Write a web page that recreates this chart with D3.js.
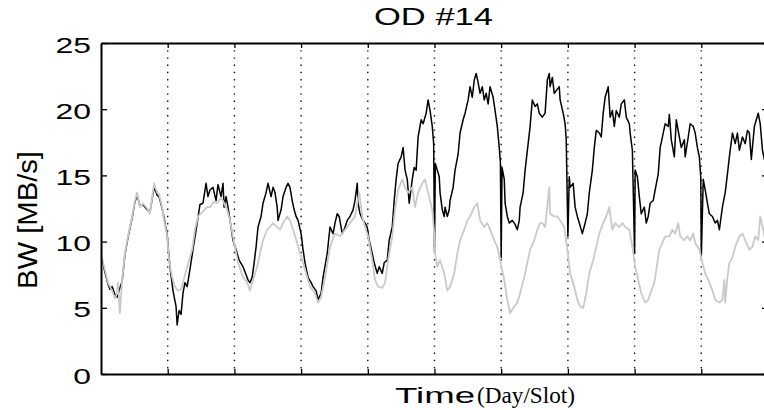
<!DOCTYPE html>
<html>
<head>
<meta charset="utf-8">
<script src="https://cdn.jsdelivr.net/npm/d3@7"></script>
<style>
  html, body { margin: 0; padding: 0; background: #fff; }
  svg { display: block; }
  text { font-family: "Liberation Sans", Arial, Helvetica, sans-serif; fill: #000; }
</style>
</head>
<body>
<svg id="chart" width="764" height="410"></svg>
<script>
// OD #14 bandwidth over ten days, time in hours from the start of the trace.
const chartTitle = "OD #14";
const yLabel = "BW [MB/s]";
const xLabelMain = "Time";
const xLabelUnit = "(Day/Slot)";

const timeDomain = [0, 240];
const bwDomain = [0, 25];
const yTicks = [0, 5, 10, 15, 20, 25];
const yTickLabels = ["0", "5", "10", "15", "20", "25"];
const dayTicks = [24, 48, 72, 96, 120, 144, 168, 192, 216];

// Measured OD traffic (dark trace): [hour, MB/s]
const measuredBW = [
  [0,9.0],[1.4,7.7],[2.5,6.8],[3.2,6.4],[4.0,6.6],[5.0,6.0],[5.8,5.8],[6.8,6.5],[7.6,7.0],[8.6,9.0],
  [9.7,10.3],[11.2,11.8],[12.2,13.0],[13.0,13.5],[14.0,12.7],[15.1,12.8],[16.6,12.4],[17.6,12.2],[18.4,13.2],[19.1,14.1],
  [20.2,13.5],[20.9,13.4],[22.0,12.5],[22.7,11.8],[23.8,10.5],[24.8,8.1],[25.9,6.3],[27.0,5.1],[27.4,3.7],[28.1,4.8],
  [28.8,4.5],[29.5,6.1],[30.2,6.9],[31.0,6.6],[32.0,7.9],[33.1,9.4],[34.6,11.4],[35.6,12.8],[36.7,12.9],[37.8,14.4],
  [38.5,13.4],[39.2,13.9],[40.3,14.1],[41.4,13.1],[42.1,14.3],[43.2,13.4],[43.9,14.4],[44.3,12.6],[45.0,13.4],[45.7,12.6],
  [46.8,11.1],[47.5,10.1],[48.6,9.4],[49.7,8.6],[51.1,8.1],[52.2,7.5],[52.9,7.1],[53.6,6.9],[54.4,7.3],[55.1,8.4],
  [55.8,9.6],[56.5,11.1],[57.6,11.9],[58.3,12.9],[59.4,13.7],[60.1,14.4],[61.2,13.4],[61.9,14.1],[62.6,13.7],[63.4,12.6],
  [63.7,11.6],[64.8,12.4],[65.5,13.4],[66.6,14.1],[67.3,14.4],[68.0,14.1],[68.8,13.1],[69.5,12.4],[70.2,11.9],[70.9,11.6],
  [72.0,10.6],[72.7,9.4],[73.4,8.4],[74.5,7.3],[75.6,6.9],[76.3,6.6],[77.4,6.3],[78.1,5.6],[79.2,6.1],[79.9,7.3],
  [81.4,9.1],[82.4,11.1],[83.5,10.6],[84.2,11.4],[85.0,12.1],[85.7,11.9],[86.8,10.6],[87.5,10.9],[88.6,11.6],[89.6,11.9],
  [90.7,12.4],[91.4,13.1],[92.2,14.4],[92.5,12.9],[93.2,12.1],[94.3,11.6],[95.0,11.4],[95.8,11.1],[96.5,10.1],[97.6,9.1],
  [98.3,8.4],[99.4,7.6],[100.1,8.1],[101.2,7.6],[101.9,8.4],[103.0,8.6],[103.7,10.1],[104.8,11.1],[105.5,13.1],[106.2,14.7],
  [106.9,15.9],[108.0,16.4],[108.7,17.1],[109.4,15.4],[110.2,14.7],[110.9,12.9],[112.0,14.7],[112.7,15.6],[113.4,15.4],[114.1,17.9],
  [115.2,19.2],[115.9,18.9],[117.0,19.7],[117.7,20.7],[118.4,19.9],[119.2,18.7],[119.7,17.4],[120.0,9.3],[120.3,15.9],[121.0,15.4],
  [121.7,14.9],[122.0,13.7],[122.8,12.4],[123.5,11.9],[123.8,12.6],[124.6,11.9],[125.3,12.4],[125.6,13.1],[126.7,14.1],[127.4,15.4],
  [128.5,16.6],[129.2,18.2],[130.3,19.2],[131.0,19.7],[132.1,20.7],[132.8,21.7],[133.6,20.9],[134.3,22.2],[135.0,22.7],[135.7,22.0],
  [136.4,21.2],[137.2,21.7],[137.9,20.7],[138.6,21.2],[139.3,20.4],[140.0,21.7],[141.1,20.9],[141.8,19.9],[142.6,18.7],[143.3,17.1],
  [143.7,16.0],[144.0,8.8],[144.3,15.6],[145.1,14.7],[145.4,12.9],[146.2,11.9],[146.9,11.4],[148.0,11.6],[149.0,11.3],[149.8,10.9],
  [150.5,11.6],[150.8,12.6],[151.9,13.7],[152.6,15.4],[153.7,17.4],[154.4,18.7],[155.2,20.7],[156.2,20.2],[157.0,20.4],[157.7,19.7],
  [158.8,19.4],[159.8,19.7],[160.6,22.2],[161.3,22.7],[161.6,21.7],[162.4,22.4],[163.1,21.2],[163.8,21.4],[164.9,21.7],[165.2,20.7],
  [166.3,19.7],[167.0,18.9],[167.4,17.7],[168.0,10.4],[168.5,14.9],[168.8,14.1],[169.9,14.4],[170.6,12.6],[171.4,11.9],[172.1,11.4],
  [173.2,10.6],[174.2,11.4],[175.0,12.1],[175.7,13.7],[176.8,15.4],[177.5,17.1],[178.2,18.4],[179.3,18.2],[180.0,17.9],[180.7,19.7],
  [181.4,20.9],[182.5,21.7],[183.2,19.4],[184.0,19.9],[184.7,18.7],[185.4,19.9],[186.5,19.4],[187.2,20.4],[188.3,20.7],[189.0,19.4],
  [190.1,18.9],[190.4,18.2],[191.2,16.9],[192.0,9.1],[192.2,15.4],[193.0,14.9],[193.7,13.4],[194.4,12.1],[195.5,12.6],[196.2,11.4],
  [196.9,11.9],[197.6,12.9],[198.7,13.1],[199.4,13.9],[200.5,15.1],[201.2,17.1],[202.3,18.2],[203.0,18.9],[204.1,18.7],[204.5,19.6],
  [205.2,17.7],[206.3,16.4],[207.0,19.2],[208.1,17.9],[208.8,17.1],[209.9,17.7],[210.2,16.4],[211.3,17.9],[212.0,18.9],[213.1,18.7],
  [213.8,18.2],[214.6,17.1],[215.3,16.4],[215.8,14.9],[216.0,8.8],[216.7,14.7],[217.4,13.9],[218.2,12.9],[218.9,12.1],[220.0,11.9],
  [221.0,11.4],[221.8,11.6],[222.5,10.9],[223.6,12.6],[224.6,13.7],[225.4,15.1],[226.1,16.4],[227.2,18.2],[228.2,17.4],[229.0,18.2],
  [229.7,16.9],[230.8,17.9],[231.8,17.4],[232.6,18.4],[233.3,18.2],[234.0,16.2],[235.1,18.7],[235.8,19.2],[236.5,19.7],[237.2,18.9],
  [238.0,16.9],[238.7,16.2],[239.4,16.5],[240.0,16.0]
];

// Reference traffic level (light trace): [hour, MB/s]
const referenceBW = [
  [0,9.1],[1.4,7.9],[2.5,6.9],[4.0,6.3],[5.0,5.7],[5.8,6.1],[6.1,6.9],[6.8,4.6],[7.6,7.1],[8.6,9.1],
  [9.7,10.4],[11.2,11.9],[12.2,13.1],[13.0,13.7],[14.0,12.6],[15.1,12.9],[16.6,12.5],[17.6,12.1],[18.4,13.3],[19.1,14.4],
  [20.2,13.7],[20.9,13.6],[22.0,12.6],[22.7,11.6],[23.8,10.4],[24.5,8.6],[25.6,7.3],[26.6,6.6],[27.7,6.3],[28.8,6.4],
  [29.5,6.9],[31.0,8.1],[32.8,9.4],[33.8,10.9],[34.9,11.9],[36.4,12.2],[38.2,12.6],[39.2,12.6],[40.5,13.0],[41.8,12.9],
  [43.0,13.3],[43.9,13.1],[45.4,12.4],[46.4,11.6],[48.2,9.6],[49.3,8.4],[51.1,7.3],[52.6,6.9],[53.6,6.3],[54.7,7.1],
  [56.2,8.1],[57.2,9.1],[58.3,10.1],[59.8,10.9],[60.8,11.1],[61.9,11.4],[63.4,11.1],[64.4,10.9],[65.5,11.4],[67.0,11.9],
  [68.0,11.6],[69.1,10.9],[70.6,9.9],[71.6,9.1],[72.7,8.4],[74.2,7.3],[75.2,6.6],[77.0,6.1],[78.1,5.4],[79.2,5.8],
  [80.6,7.3],[82.4,9.6],[84.2,10.6],[86.0,10.4],[87.8,10.9],[89.6,11.4],[91.4,11.9],[92.9,13.7],[94.0,11.9],[95.0,11.1],
  [96.1,10.4],[97.6,8.6],[98.6,7.1],[99.7,6.6],[101.2,6.5],[102.2,6.9],[103.3,8.6],[104.8,10.4],[105.8,12.4],[106.9,13.9],
  [108.4,14.7],[109.4,14.1],[110.5,13.7],[112.0,14.1],[113.0,12.6],[114.1,13.7],[115.6,14.4],[116.6,14.7],[117.7,13.7],[119.2,12.4],
  [119.9,10.6],[120.2,9.1],[121.0,8.1],[122.0,8.6],[123.5,7.6],[124.6,6.3],[125.6,6.6],[127.1,7.6],[128.2,9.1],[129.2,10.1],
  [130.7,10.9],[131.8,11.6],[132.8,11.9],[134.3,12.6],[135.4,12.9],[136.4,11.6],[137.9,11.1],[139.0,11.4],[140.0,10.9],[141.5,10.1],
  [142.6,9.6],[143.6,8.6],[145.1,7.1],[146.2,5.6],[147.2,4.6],[148.7,5.1],[149.8,5.4],[150.8,6.1],[152.3,7.3],[153.4,8.4],
  [154.4,9.4],[155.9,10.1],[157.0,10.9],[158.0,11.4],[158.8,11.4],[159.8,11.1],[161.3,14.1],[161.6,12.1],[163.1,11.9],[164.2,11.9],
  [165.2,11.6],[166.7,11.1],[167.8,9.4],[168.8,7.6],[170.3,6.6],[171.4,5.6],[172.4,5.1],[173.5,5.0],[174.6,6.1],[175.7,7.6],
  [177.1,8.6],[178.2,9.6],[179.3,10.6],[180.7,11.4],[181.8,11.9],[182.9,12.6],[184.0,10.9],[185.0,11.4],[186.5,11.1],[187.6,11.4],
  [188.6,11.1],[190.1,10.9],[191.2,9.6],[192.2,8.1],[193.3,7.1],[194.4,6.1],[195.8,5.4],[196.9,5.6],[198.0,6.3],[199.1,6.9],
  [199.4,7.3],[200.9,9.4],[202.0,9.9],[203.0,10.4],[204.5,10.4],[205.6,10.9],[206.6,10.6],[207.7,11.4],[208.4,10.4],[209.9,10.1],
  [211.0,10.4],[212.0,10.1],[213.1,10.6],[213.8,9.9],[215.3,9.4],[216.4,8.4],[217.4,7.6],[218.9,6.9],[220.0,6.3],[221.0,5.6],
  [222.5,5.4],[223.6,5.6],[224.3,7.1],[224.6,5.4],[225.4,7.3],[226.1,8.4],[227.2,8.8],[228.2,9.6],[229.7,10.4],[230.8,10.6],
  [231.8,10.1],[233.3,9.4],[234.4,9.6],[235.4,10.4],[236.5,10.1],[237.2,11.9],[238.3,10.9],[239.4,9.6],[240.0,9.8]
];

const svg = d3.select("#chart");
const plot = { left: 101, right: 768, top: 43, bottom: 374 };

const x = d3.scaleLinear().domain(timeDomain).range([plot.left, plot.right]);
const y = d3.scaleLinear().domain(bwDomain).range([plot.bottom, plot.top]);

svg.append("defs").append("clipPath").attr("id", "plot-clip")
  .append("rect")
  .attr("x", plot.left).attr("y", plot.top)
  .attr("width", plot.right - plot.left).attr("height", plot.bottom - plot.top);

// Day separators
svg.append("g").selectAll("line").data(dayTicks).join("line")
  .attr("x1", d => x(d)).attr("x2", d => x(d))
  .attr("y1", y(bwDomain[1])).attr("y2", y(bwDomain[0]))
  .attr("stroke", "#111").attr("stroke-width", 1.4)
  .attr("stroke-dasharray", "1.4 5.8");

// Traces
const line = d3.line().x(d => x(d[0])).y(d => y(d[1]));
const traces = svg.append("g").attr("clip-path", "url(#plot-clip)");
traces.append("path").datum(measuredBW)
  .attr("d", line).attr("fill", "none")
  .attr("stroke", "#000").attr("stroke-width", 1.5).attr("stroke-linejoin", "round");
traces.append("path").datum(referenceBW)
  .attr("d", line).attr("fill", "none")
  .attr("stroke", "#c9c9c9").attr("stroke-width", 1.8).attr("stroke-linejoin", "round");

// Axes (ticks point inward)
const styleAxis = g => {
  g.select(".domain").attr("stroke", "#000").attr("stroke-width", 2);
  g.selectAll(".tick line").attr("stroke", "#000").attr("stroke-width", 1.3);
};

const left = svg.append("g").attr("transform", `translate(${plot.left},0)`)
  .call(d3.axisLeft(y).tickValues(yTicks).tickSize(-6).tickSizeOuter(0)
    .tickFormat((d, i) => yTickLabels[i]))
  .call(styleAxis);
left.selectAll(".tick text")
  .attr("x", null).attr("dy", null)
  .attr("text-anchor", "end")
  .attr("transform", "translate(-10,9) scale(1.45,1)")
  .style("font-size", "22px")
  .style("font-family", "'Liberation Sans', Arial, sans-serif");

svg.append("g").attr("transform", `translate(${plot.right},0)`)
  .call(d3.axisRight(y).tickValues(yTicks).tickSize(-6).tickSizeOuter(0).tickFormat(""))
  .call(styleAxis);

svg.append("g").attr("transform", `translate(0,${plot.bottom})`)
  .call(d3.axisBottom(x).tickValues(dayTicks).tickSize(-5).tickSizeOuter(0).tickFormat(""))
  .call(styleAxis);

svg.append("g").attr("transform", `translate(0,${plot.top})`)
  .call(d3.axisTop(x).tickValues(dayTicks).tickSize(-5).tickSizeOuter(0).tickFormat(""))
  .call(styleAxis);

// Title
svg.append("text")
  .attr("x", 374).attr("y", 25)
  .attr("textLength", 119).attr("lengthAdjust", "spacingAndGlyphs")
  .style("font-size", "23px")
  .text(chartTitle);

// Y label
svg.append("text")
  .attr("transform", "translate(37,220) rotate(-90)")
  .attr("text-anchor", "middle")
  .attr("textLength", 138).attr("lengthAdjust", "spacingAndGlyphs")
  .style("font-size", "28px")
  .text(yLabel);

// X label: sans "Time" followed by serif unit
svg.append("text")
  .attr("x", 395).attr("y", 403)
  .attr("textLength", 80).attr("lengthAdjust", "spacingAndGlyphs")
  .style("font-size", "22px")
  .text(xLabelMain);
svg.append("text")
  .attr("x", 477).attr("y", 403)
  .attr("textLength", 98).attr("lengthAdjust", "spacingAndGlyphs")
  .style("font-family", "'Liberation Serif', 'Times New Roman', serif")
  .style("font-size", "23px")
  .text(xLabelUnit);
</script>
</body>
</html>
